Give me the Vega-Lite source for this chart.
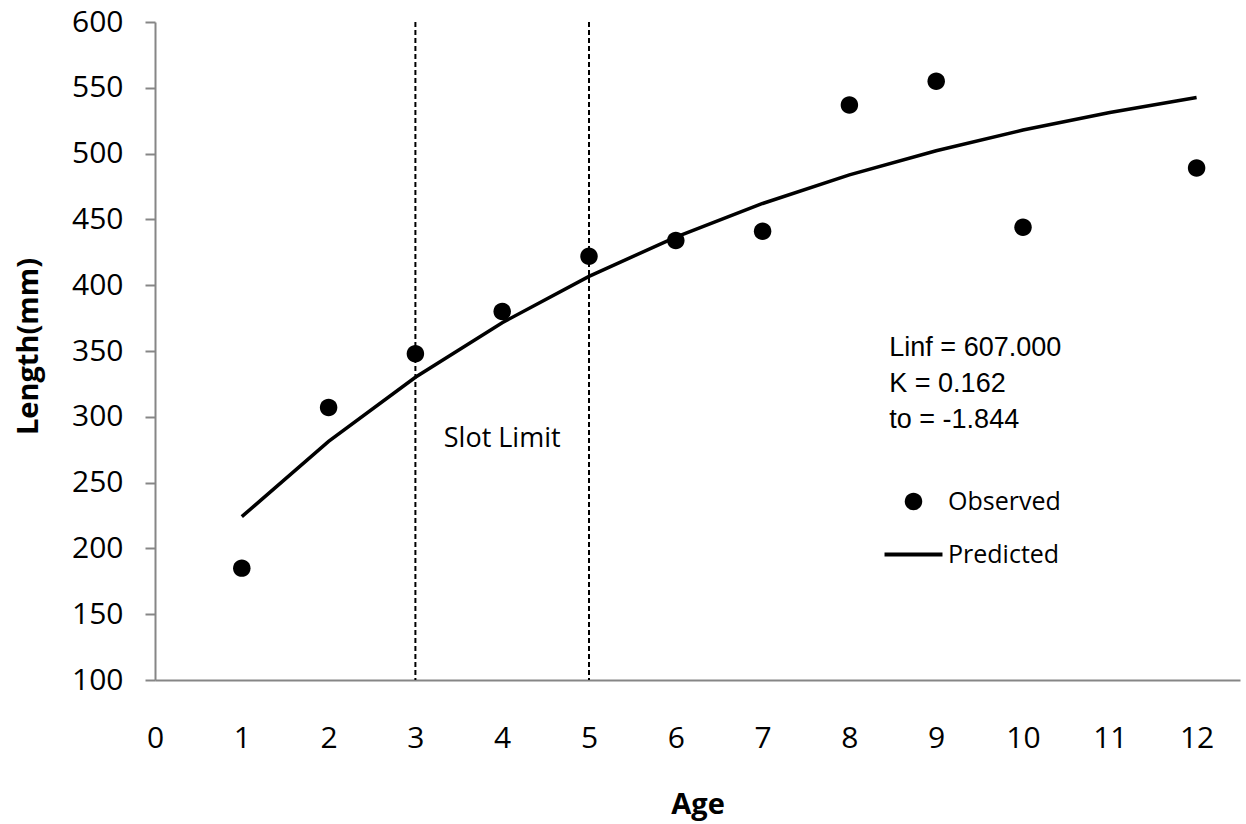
{
  "$schema": "https://vega.github.io/schema/vega-lite/v6.json",
  "width": 1085,
  "height": 658,
  "autosize": "none",
  "padding": {"left": 155, "top": 22, "right": 6, "bottom": 144},
  "background": "white",
  "config": {
    "view": {"stroke": null},
    "font": "Open Sans",
    "axis": {
      "grid": false,
      "domainColor": "#868686",
      "domainWidth": 2,
      "tickColor": "#868686",
      "tickWidth": 2,
      "labelColor": "black",
      "labelFont": "Open Sans",
      "labelFontSize": 30,
      "titleFont": "Open Sans",
      "titleFontSize": 29,
      "titleFontWeight": "bold",
      "titleColor": "black"
    }
  },
  "datasets": {
    "observed": [
      {"age": 1, "length": 185, "series": "Observed"},
      {"age": 2, "length": 307, "series": "Observed"},
      {"age": 3, "length": 348, "series": "Observed"},
      {"age": 4, "length": 380, "series": "Observed"},
      {"age": 5, "length": 422, "series": "Observed"},
      {"age": 6, "length": 434, "series": "Observed"},
      {"age": 7, "length": 441, "series": "Observed"},
      {"age": 8, "length": 537, "series": "Observed"},
      {"age": 9, "length": 555, "series": "Observed"},
      {"age": 10, "length": 444, "series": "Observed"},
      {"age": 12, "length": 489, "series": "Observed"}
    ],
    "predicted": [
      {"age": 1, "length": 224.1},
      {"age": 2, "length": 281.3},
      {"age": 3, "length": 330.0},
      {"age": 4, "length": 371.5},
      {"age": 5, "length": 406.7},
      {"age": 6, "length": 436.6},
      {"age": 7, "length": 462.1},
      {"age": 8, "length": 483.8},
      {"age": 9, "length": 502.2},
      {"age": 10, "length": 517.9},
      {"age": 11, "length": 531.2},
      {"age": 12, "length": 542.6}
    ],
    "slot": [{"age": 3}, {"age": 5}]
  },
  "layer": [
    {
      "data": {"name": "slot"},
      "mark": {"type": "rule", "color": "black", "strokeWidth": 2, "strokeDash": [5, 3]},
      "encoding": {
        "x": {"field": "age", "type": "quantitative"}
      }
    },
    {
      "data": {"name": "predicted"},
      "mark": {"type": "line", "color": "black", "strokeWidth": 3.5},
      "encoding": {
        "x": {
          "field": "age",
          "type": "quantitative",
          "scale": {"domain": [0, 12.5], "nice": false, "zero": false},
          "axis": {
            "values": [0, 1, 2, 3, 4, 5, 6, 7, 8, 9, 10, 11, 12],
            "format": "d",
            "ticks": false,
            "tickSize": 0,
            "labelPadding": 67,
            "labelBaseline": "alphabetic",
            "labelFlush": false,
            "labelOverlap": false,
            "title": "Age",
            "titleY": 133,
            "titleBaseline": "alphabetic"
          }
        },
        "y": {
          "field": "length",
          "type": "quantitative",
          "scale": {"domain": [100, 600], "nice": false, "zero": false},
          "axis": {
            "values": [100, 150, 200, 250, 300, 350, 400, 450, 500, 550, 600],
            "tickSize": 10,
            "labelPadding": 22,
            "labelFlush": false,
            "labelOverlap": false,
            "title": "Length(mm)",
            "titleX": -118,
            "titleY": 324,
            "titleAngle": -90,
            "titleBaseline": "alphabetic",
            "titleAlign": "center"
          }
        }
      }
    },
    {
      "data": {"name": "observed"},
      "mark": {"type": "point", "filled": true, "color": "black", "opacity": 1, "size": 324},
      "encoding": {
        "x": {"field": "age", "type": "quantitative"},
        "y": {"field": "length", "type": "quantitative"},
        "shape": {
          "field": "series",
          "type": "nominal",
          "scale": {
            "domain": ["Observed", "Predicted"],
            "range": ["M0.97,0A0.97,0.97,0,1,1,-0.97,0A0.97,0.97,0,1,1,0.97,0Z", "M-3.22,-0.22H3.22V0.22H-3.22Z"]
          },
          "legend": {
            "orient": "none",
            "legendX": 746,
            "legendY": 467,
            "title": null,
            "padding": 0,
            "symbolSize": 324,
            "symbolFillColor": "black",
            "symbolOpacity": 1,
            "labelFont": "Open Sans",
            "labelFontSize": 25,
            "labelColor": "black",
            "labelOffset": 22,
            "rowPadding": 27
          }
        }
      }
    },
    {
      "data": {"values": [{}]},
      "mark": {"type": "text", "font": "Liberation Sans", "fontSize": 27, "align": "left", "baseline": "alphabetic", "lineHeight": 36, "color": "black"},
      "encoding": {
        "x": {"datum": 8.46, "type": "quantitative"},
        "y": {"datum": 346, "type": "quantitative"},
        "text": {"value": ["Linf = 607.000", "K = 0.162", "to = -1.844"]}
      }
    },
    {
      "data": {"values": [{}]},
      "mark": {"type": "text", "font": "Open Sans", "fontSize": 27, "align": "center", "baseline": "alphabetic", "color": "black"},
      "encoding": {
        "x": {"datum": 4, "type": "quantitative"},
        "y": {"datum": 277, "type": "quantitative"},
        "text": {"value": "Slot Limit"}
      }
    }
  ]
}
